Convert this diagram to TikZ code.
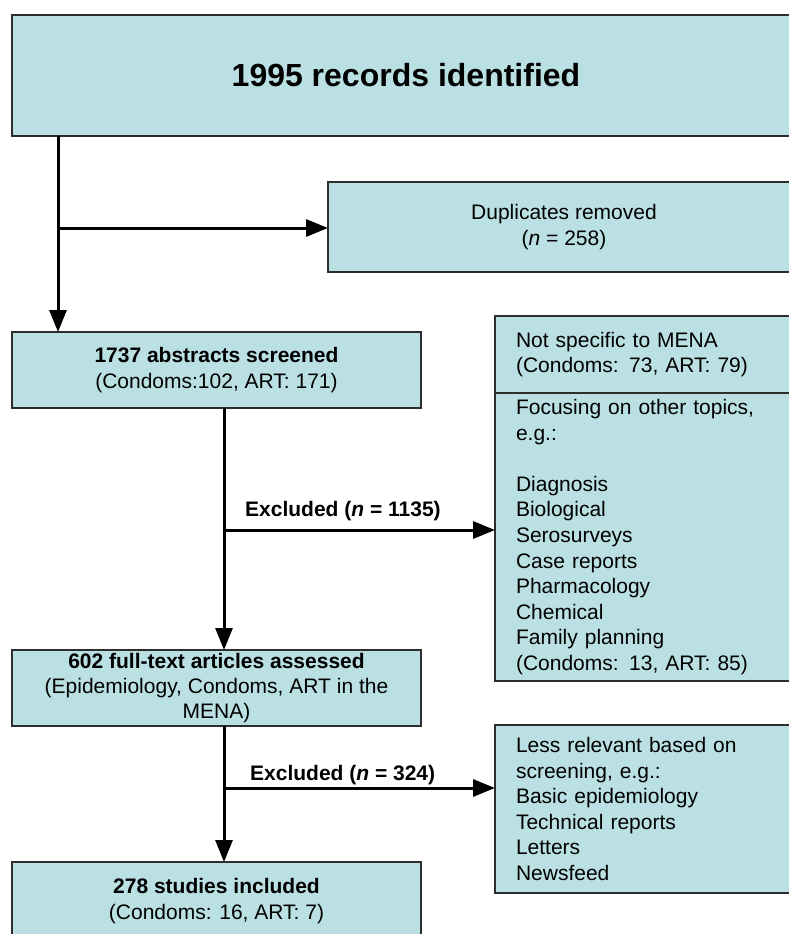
\documentclass[tikz,border=0pt]{standalone}
\usepackage{fontspec}
\setmainfont{Liberation Sans}
\usetikzlibrary{arrows.meta}
\definecolor{boxfill}{RGB}{186,224,227}
\definecolor{boxline}{RGB}{45,45,45}
\begin{document}
\begin{tikzpicture}[x=1pt,y=1pt,
  box/.style={draw=boxline, line width=2pt, fill=boxfill, inner sep=0pt, outer sep=0pt, anchor=north west, align=center, font=\fontsize{21}{25.6}\selectfont},
  lbox/.style={box, align=left, inner xsep=21pt, inner ysep=0pt},
  arr/.style={line width=3pt, -{Triangle[length=22pt,width=17pt]}},
  lbl/.style={font=\fontsize{21}{25.6}\selectfont\bfseries, inner sep=0pt, anchor=west}]
\useasboundingbox (0,0) rectangle (788,-934);
\fill[white] (0,0) rectangle (788,-934);
\node[box, minimum width=788pt, minimum height=121pt, font=\fontsize{32}{38}\selectfont\bfseries] (top) at (12,-15) {1995 records identified};
\node[box, minimum width=472pt, minimum height=90pt] (dup) at (328,-182) {Duplicates removed\\(\textit{n} = 258)};
\node[box, minimum width=409pt, minimum height=76pt] (abs) at (12,-332) {{\bfseries 1737 abstracts screened}\\(Condoms:102, ART: 171)};
\node[lbox, text width=263pt, minimum height=77pt] (ex1a) at (495,-316) {Not specific to MENA\\(Condoms: 73, ART: 79)};
\node[lbox, text width=263pt, minimum height=288pt] (ex1b) at (495,-393) {Focusing on other topics,\\e.g.:\\[25.6pt]Diagnosis\\Biological\\Serosurveys\\Case reports\\Pharmacology\\Chemical\\Family planning\\(Condoms: 13, ART: 85)};
\node[box, minimum width=409pt, minimum height=76pt, font=\fontsize{21}{25}\selectfont] (full) at (12,-650) {{\bfseries 602 full-text articles assessed}\\(Epidemiology, Condoms, ART in the\\MENA)};
\node[lbox, text width=263pt, minimum height=168pt] (ex2) at (495,-725) {Less relevant based on\\screening, e.g.:\\Basic epidemiology\\Technical reports\\Letters\\Newsfeed};
\node[box, minimum width=409pt, minimum height=78pt] (incl) at (12,-862) {{\bfseries 278 studies included}\\(Condoms: 16, ART: 7)};
\coordinate (s0) at (58,-136);
\coordinate (b0) at (58,-228);
\coordinate (colx) at (224,0);
\coordinate (b1) at (224,-530);
\coordinate (b2) at (224,-788);
\draw[arr] (s0) -- (s0 |- abs.north);
\draw[arr] (b0) -- (b0 -| dup.west);
\draw[arr] (abs.south -| colx) -- (full.north -| colx);
\draw[arr] (b1) -- (b1 -| ex1b.west);
\draw[arr] (full.south -| colx) -- (incl.north -| colx);
\draw[arr] (b2) -- (b2 -| ex2.west);
\node[lbl] (l1) at (245,-511) {Excluded (\textit{n} = 1135)};
\node[lbl] (l2) at (250,-775) {Excluded (\textit{n} = 324)};
\end{tikzpicture}
\end{document}
